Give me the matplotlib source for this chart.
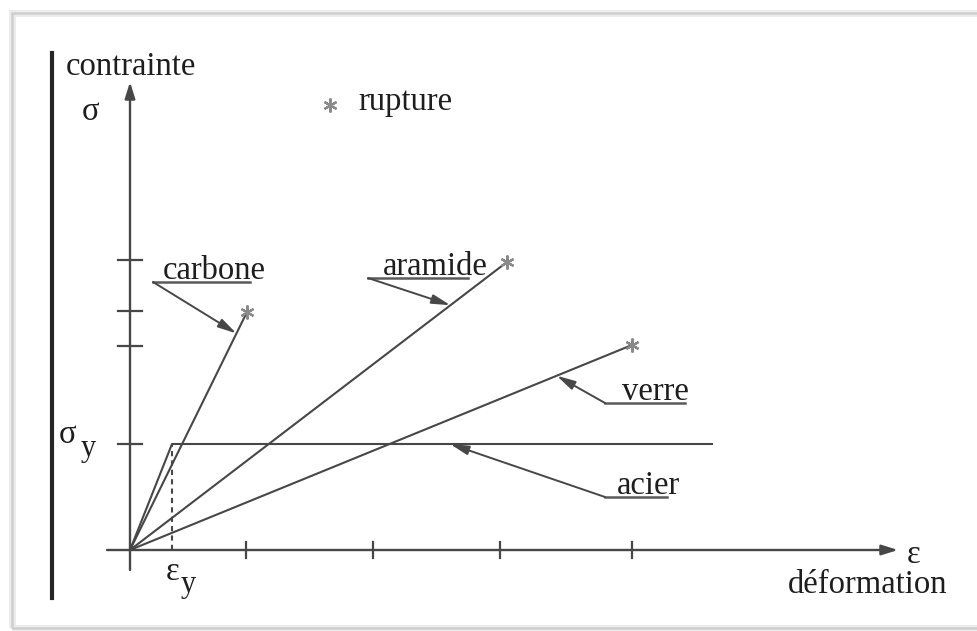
import matplotlib
matplotlib.use("Agg")
import matplotlib.pyplot as plt
from matplotlib.lines import Line2D
from matplotlib.patches import Rectangle

# ---- material data (strain, stress in arbitrary units) ----
materials = ["carbone", "aramide", "verre"]
strain_rupture = [1.17, 3.77, 5.02]
stress_rupture = [2.38, 2.88, 2.05]

eps_y = 0.42          # steel yield strain
sigma_y = 1.06        # steel yield stress
steel_strain_end = 5.82

strain_ticks = [1.16, 2.43, 3.70, 5.02]
stress_ticks = [2.04, 2.39, 2.90]

LINE = "#474747"
TEXT = "#1e1e1e"
FONT = "Liberation Serif"
FS = 23.5

fig = plt.figure(figsize=(9.77, 6.31), dpi=100)
ax = fig.add_axes([0, 0, 1, 1])
ax.set_xlim(-1.30, 8.47)
ax.set_ylim(-0.81, 5.50)
ax.axis("off")

# ---- page frame and margin bar ----
W, H = 977, 631
def fx(px):
    return px / W
def fy(py):
    return 1 - py / H

fig.patches.append(Rectangle((fx(12), fy(628)), fx(990) - fx(12), fy(13) - fy(628),
                             transform=fig.transFigure, fill=False,
                             edgecolor="#ececec", lw=5, zorder=0))
fig.patches.append(Rectangle((fx(12), fy(628)), fx(990) - fx(12), fy(13) - fy(628),
                             transform=fig.transFigure, fill=False,
                             edgecolor="#cfcfcf", lw=1.8, zorder=1))
fig.lines.append(Line2D([fx(52), fx(52)], [fy(53), fy(598)], transform=fig.transFigure,
                        color="#262626", lw=3))

# ---- coordinate axes ----
arrow_kw = dict(arrowstyle="-|>,head_length=0.7,head_width=0.22", mutation_scale=14,
                lw=1.7, color=LINE, shrinkA=0, shrinkB=0)
ax.annotate("", xy=(0, 4.68), xytext=(0, -0.20), arrowprops=arrow_kw)
ax.annotate("", xy=(7.68, 0), xytext=(-0.23, 0), arrowprops=arrow_kw)

for s in [sigma_y] + stress_ticks:
    ax.plot([-0.12, 0.12], [s, s], color=LINE, lw=1.6)
for e in strain_ticks:
    ax.plot([e, e], [-0.08, 0.08], color=LINE, lw=1.6)

# ---- stress-strain curves ----
for e, s in zip(strain_rupture, stress_rupture):
    ax.plot([0, e], [0, s], color=LINE, lw=1.5, solid_capstyle="round")
    ax.plot(e, s, marker=(6, 2, 0), ms=10, color="#8a8a8a", mew=1.6)

ax.plot([0, eps_y, steel_strain_end], [0, sigma_y, sigma_y], color=LINE, lw=1.5)
ax.plot([eps_y, eps_y], [0, sigma_y], color=LINE, lw=1.5, ls=(0, (2.5, 2.0)))

# ---- axis labels ----
tkw = dict(family=FONT, color=TEXT)
ax.text(-0.64, 4.75, "contrainte", fontsize=FS, ha="left", va="baseline", **tkw)
ax.text(-0.39, 4.30, "σ", fontsize=FS, ha="center", va="baseline", **tkw)
ax.text(-0.62, 1.07, "σ", fontsize=FS, ha="center", va="baseline", **tkw)
ax.text(-0.42, 0.94, "y", fontsize=22, ha="center", va="baseline", **tkw)
ax.text(7.84, -0.13, "ε", fontsize=FS, ha="center", va="baseline", **tkw)
ax.text(8.17, -0.43, "déformation", fontsize=FS, ha="right", va="baseline", **tkw)
ax.text(eps_y + 0.01, -0.30, "ε", fontsize=FS, ha="center", va="baseline", **tkw)
ax.text(eps_y + 0.16, -0.42, "y", fontsize=22, ha="center", va="baseline", **tkw)

# rupture legend
ax.plot(2.00, 4.45, marker=(6, 2, 0), ms=10, color="#8a8a8a", mew=1.6)
ax.text(2.28, 4.40, "rupture", fontsize=FS, ha="left", va="baseline", **tkw)

# ---- leader labels ----
lead_kw = dict(arrowstyle="-|>,head_length=0.8,head_width=0.2", mutation_scale=14,
               lw=1.4, color=LINE, shrinkA=0, shrinkB=0)

def leader(label, elbow, under_end, text_dx, tip):
    ex, ey = elbow
    ax.plot([ex, under_end], [ey, ey], color="#5a5a5a", lw=1.8)
    ax.annotate("", xy=tip, xytext=elbow, arrowprops=lead_kw)
    ax.text(ex + text_dx, ey + 0.03, label, fontsize=FS, ha="left", va="baseline", **tkw)

# points on the fibre curves where the leaders point
t_fibre = [0.91, 0.85, 0.85]
tips = [(e * t, s * t) for e, s, t in zip(strain_rupture, stress_rupture, t_fibre)]

leader("carbone", (0.23, 2.68), 1.20, 0.10, tips[0])
leader("aramide", (2.38, 2.72), 3.38, 0.15, tips[1])
leader("verre", (4.75, 1.47), 5.55, 0.17, tips[2])
steel_tip = (eps_y + 0.515 * (steel_strain_end - eps_y), sigma_y)
leader("acier", (4.75, 0.53), 5.37, 0.12, steel_tip)

fig.savefig("out.png", dpi=100, facecolor="white")
